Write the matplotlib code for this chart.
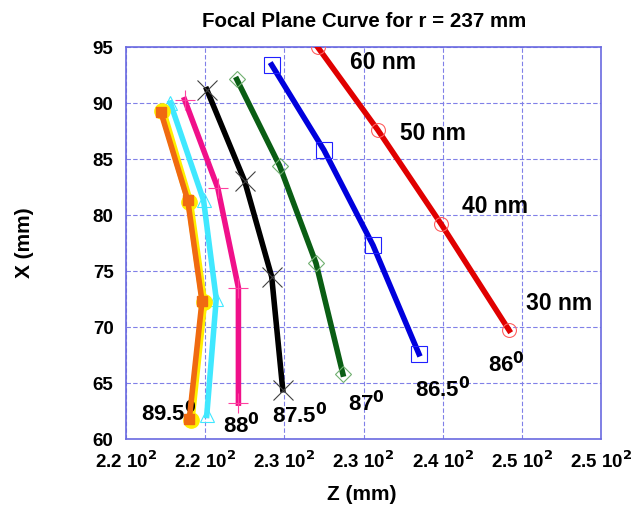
import numpy as np
import matplotlib.pyplot as plt
from matplotlib.ticker import FixedLocator, FixedFormatter

plt.rcParams['font.family'] = ['Liberation Sans', 'DejaVu Sans']
plt.rcParams['font.weight'] = 'bold'
plt.rcParams['mathtext.default'] = 'bf'

# focal curve points per incidence angle: Z (mm), X (mm)
z_860 = [232.1, 235.9, 239.9, 244.2]
x_860 = [95.0, 87.6, 79.2, 69.7]
z_865 = [229.2, 232.5, 235.6, 238.5]
x_865 = [93.4, 85.8, 77.3, 67.6]
z_870 = [227.0, 229.7, 232.0, 233.7]
x_870 = [92.1, 84.4, 75.7, 65.8]
z_875 = [225.1, 227.5, 229.2, 229.9]
x_875 = [91.2, 83.0, 74.5, 64.4]
z_880 = [223.7, 225.8, 227.1, 227.1]
x_880 = [90.3, 82.4, 73.5, 63.2]
z_885 = [222.8, 224.9, 225.7, 225.1]
x_885 = [90.0, 81.3, 72.5, 62.1]
z_890 = [222.2, 223.9, 224.8, 224.0]
x_890 = [89.2, 81.3, 72.3, 61.8]
z_895 = [222.3, 224.0, 224.9, 224.1]
x_895 = [89.3, 81.2, 72.2, 61.7]

wavelengths = ['60 nm', '50 nm', '40 nm', '30 nm']
angle_labels = ['86', '86.5', '87', '87.5', '88', '89.5']

z_ticks = [220, 225, 230, 235, 240, 245, 250]
z_tick_labels = ['2.2', '2.2', '2.3', '2.3', '2.4', '2.5', '2.5']
x_ticks = [60, 65, 70, 75, 80, 85, 90, 95]

W, H = 638, 513
fig = plt.figure(figsize=(W / 100, H / 100), dpi=100)
ax = fig.add_axes([126 / W, 1 - 439 / H, 475 / W, 392 / H])

lw = 4
ax.plot(z_860, x_860, color='#e00000', lw=lw, marker='o', ms=10, mfc='none',
        mec='#ff6060', mew=0.8, zorder=3)
ax.plot(z_865, x_865, color='#0000dd', lw=lw, marker='s', ms=11, mfc='none',
        mec='#2020ff', mew=0.8, zorder=3)
ax.plot(z_870, x_870, color='#0a5e14', lw=lw, marker='D', ms=8, mfc='none',
        mec='#70b070', mew=0.8, zorder=3)
ax.plot(z_875, x_875, color='black', lw=lw, marker='x', ms=14, mec='#404040',
        mew=0.8, zorder=3)
ax.plot(z_880, x_880, color='#f0108a', lw=lw, marker='+', ms=14, mec='#ff40a0',
        mew=0.8, zorder=3)
ax.plot(z_885, x_885, color='#40e8ff', lw=lw, marker='^', ms=10, mfc='none',
        mec='#40e8ff', mew=0.8, zorder=3)
ax.plot(z_895, x_895, color='#ffee00', lw=lw + 1.5, marker='o', ms=11,
        mfc='#ffee00', mec='#ffee00', zorder=3)
ax.plot(z_890, x_890, color='#f06a10', lw=lw, marker='s', ms=7,
        mfc='#f06a10', mec='#f06a10', zorder=4)

ax.set_xlim(220, 250)
ax.set_ylim(60, 95)
ax.xaxis.set_major_locator(FixedLocator(z_ticks))
ax.xaxis.set_major_formatter(FixedFormatter([t + ' 10$^2$' for t in z_tick_labels]))
ax.yaxis.set_major_locator(FixedLocator(x_ticks))
ax.tick_params(length=0, labelsize=13.5)
ax.tick_params(axis='x', pad=8)
ax.tick_params(axis='y', pad=9)
ax.grid(True, color='#8080e8', lw=0.8, ls=(0, (4, 2)))
for sp in ax.spines.values():
    sp.set_color('#6a6ae0')
    sp.set_linewidth(1.2)

fig.text(362 / W, 1 - 494 / H, 'Z (mm)', fontsize=15, fontweight='bold',
         ha='center', va='center')
fig.text(25 / W, 1 - 243 / H, 'X (mm)', fontsize=15, fontweight='bold',
         rotation=90, ha='center', va='center')
fig.text(364 / W, 1 - 27 / H, 'Focal Plane Curve for r = 237 mm', fontsize=14.8,
         fontweight='bold', ha='center', va='baseline')

# wavelength labels along the 86 degree curve
for label, (zt, xt) in zip(wavelengths, [(236.2, 93.6), (239.4, 87.3),
                                          (243.3, 80.8), (247.35, 72.1)]):
    ax.text(zt, xt, label, fontsize=16.5, ha='center', va='center')

# angle labels under each curve
for a, (zt, xt) in zip(angle_labels, [(244.0, 66.0), (240.0, 63.75),
                                       (235.2, 62.45), (231.0, 61.4),
                                       (227.3, 60.5), (222.7, 61.55)]):
    ax.text(zt, xt, a + '$^0$', fontsize=16, ha='center', va='baseline')

fig.savefig('out.png', dpi=100)
